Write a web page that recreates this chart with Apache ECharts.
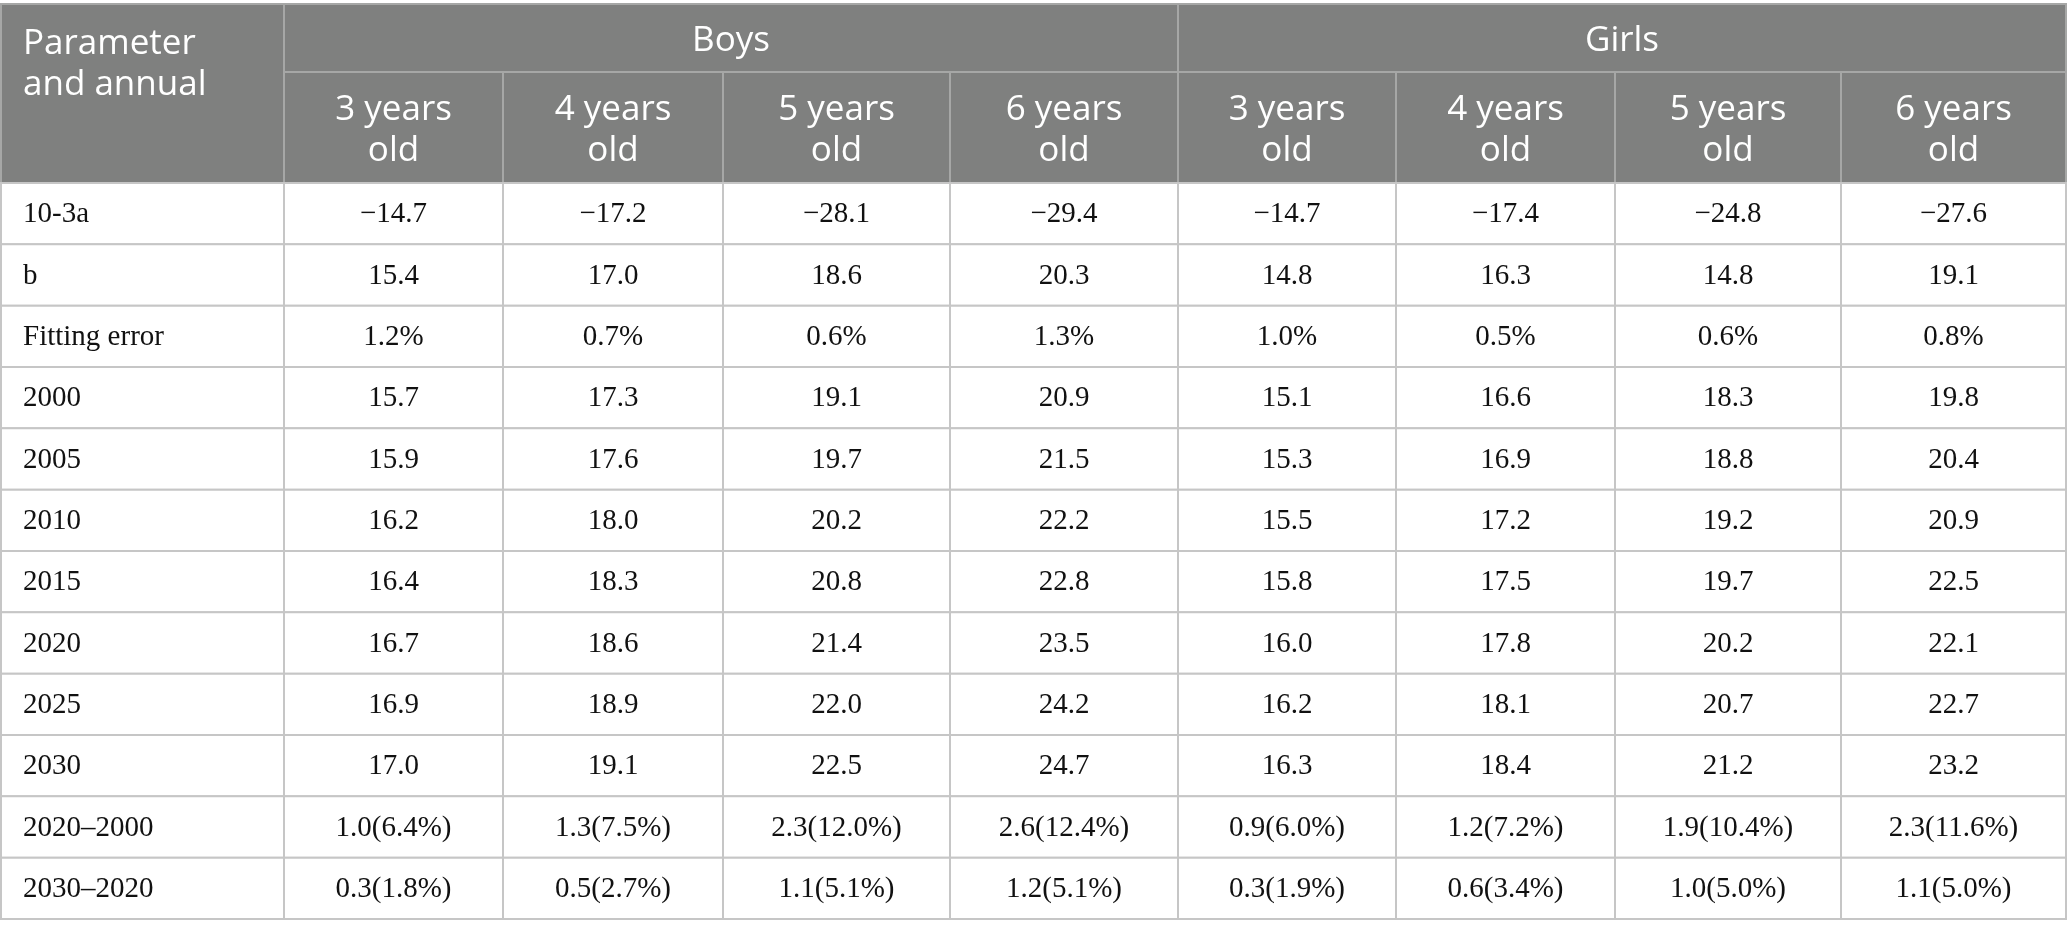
<!DOCTYPE html>
<html>
<head>
<meta charset="utf-8">
<title>Table</title>
<script src="https://cdn.jsdelivr.net/npm/echarts@6.0.0/dist/echarts.min.js"></script>
<style>
  html, body { margin: 0; padding: 0; background: #fff; }
  #box { width: 2068px; height: 934px; }
</style>
</head>
<body>
<div id="box"></div>
<script>
// table contents
var groups = ['Boys', 'Girls']
var ages = ['3 years\nold', '4 years\nold', '5 years\nold', '6 years\nold']
var rowLabels = ['10-3a', 'b', 'Fitting error', '2000', '2005', '2010', '2015', '2020', '2025', '2030', '2020–2000', '2030–2020']

var boys3 = ['−14.7', '15.4', '1.2%', '15.7', '15.9', '16.2', '16.4', '16.7', '16.9', '17.0', '1.0(6.4%)', '0.3(1.8%)']
var boys4 = ['−17.2', '17.0', '0.7%', '17.3', '17.6', '18.0', '18.3', '18.6', '18.9', '19.1', '1.3(7.5%)', '0.5(2.7%)']
var boys5 = ['−28.1', '18.6', '0.6%', '19.1', '19.7', '20.2', '20.8', '21.4', '22.0', '22.5', '2.3(12.0%)', '1.1(5.1%)']
var boys6 = ['−29.4', '20.3', '1.3%', '20.9', '21.5', '22.2', '22.8', '23.5', '24.2', '24.7', '2.6(12.4%)', '1.2(5.1%)']
var girls3 = ['−14.7', '14.8', '1.0%', '15.1', '15.3', '15.5', '15.8', '16.0', '16.2', '16.3', '0.9(6.0%)', '0.3(1.9%)']
var girls4 = ['−17.4', '16.3', '0.5%', '16.6', '16.9', '17.2', '17.5', '17.8', '18.1', '18.4', '1.2(7.2%)', '0.6(3.4%)']
var girls5 = ['−24.8', '14.8', '0.6%', '18.3', '18.8', '19.2', '19.7', '20.2', '20.7', '21.2', '1.9(10.4%)', '1.0(5.0%)']
var girls6 = ['−27.6', '19.1', '0.8%', '19.8', '20.4', '20.9', '22.5', '22.1', '22.7', '23.2', '2.3(11.6%)', '1.1(5.0%)']

var columns = [boys3, boys4, boys5, boys6, girls3, girls4, girls5, girls6]

// layout (axis units = pixels of the table)
var colEdges = [0, 283, 502, 722, 949, 1177, 1395, 1614, 1840, 2065]
var rowEdges = [0, 68, 179]
for (var i = 1; i <= rowLabels.length; i++) {
    rowEdges.push(179 + i * 61.33)
}

// cells: [col0, col1, row0, row1]
var cells = []
cells.push({ value: [0, 1, 0, 2], text: 'Parameter\nand annual', head: true, left: true })
groups.forEach(function (g, gi) {
    cells.push({ value: [1 + gi * 4, 5 + gi * 4, 0, 1], text: g, head: true })
    ages.forEach(function (a, ai) {
        var c = 1 + gi * 4 + ai
        cells.push({ value: [c, c + 1, 1, 2], text: a, head: true })
    })
})
rowLabels.forEach(function (lab, ri) {
    cells.push({ value: [0, 1, ri + 2, ri + 3], text: lab, left: true })
    columns.forEach(function (col, ci) {
        cells.push({ value: [ci + 1, ci + 2, ri + 2, ri + 3], text: col[ri] })
    })
})

var chart = echarts.init(document.getElementById('box'))

chart.setOption({
    animation: false,
    grid: { left: 1, top: 4, width: 2065, height: 915 },
    xAxis: { type: 'value', min: 0, max: 2065, show: false },
    yAxis: { type: 'value', min: 0, max: 915, inverse: true, show: false },
    series: [{
        type: 'custom',
        coordinateSystem: 'cartesian2d',
        data: cells,
        renderItem: function (params, api) {
            var cell = cells[params.dataIndex]
            var p0 = api.coord([colEdges[api.value(0)], rowEdges[api.value(2)]])
            var p1 = api.coord([colEdges[api.value(1)], rowEdges[api.value(3)]])
            var w = p1[0] - p0[0]
            var h = p1[1] - p0[1]
            var tx = cell.left ? p0[0] + 22 : p0[0] + w / 2
            var ty = p0[1] + h / 2
            var textStyle
            if (cell.head) {
                if (cell.left) ty = p0[1] + 20
                textStyle = {
                    text: cell.text,
                    fill: '#ffffff',
                    fontFamily: 'Open Sans',
                    fontSize: 35,
                    lineHeight: 41,
                    align: cell.left ? 'left' : 'center',
                    verticalAlign: cell.left ? 'top' : 'middle'
                }
                if (!cell.left) ty += 3
            } else {
                textStyle = {
                    text: cell.text,
                    fill: '#111111',
                    fontFamily: 'Liberation Serif',
                    fontSize: 29,
                    align: cell.left ? 'left' : 'center',
                    verticalAlign: 'middle'
                }
                ty += 1
            }
            return {
                type: 'group',
                children: [{
                    type: 'rect',
                    shape: { x: p0[0], y: p0[1], width: w, height: h },
                    style: {
                        fill: cell.head ? '#7f807f' : '#ffffff',
                        stroke: cell.head ? '#a6a7a6' : '#c6c6c6',
                        lineWidth: 2
                    }
                }, {
                    type: 'text',
                    x: tx,
                    y: ty,
                    style: textStyle
                }]
            }
        }
    }]
})
</script>
</body>
</html>
